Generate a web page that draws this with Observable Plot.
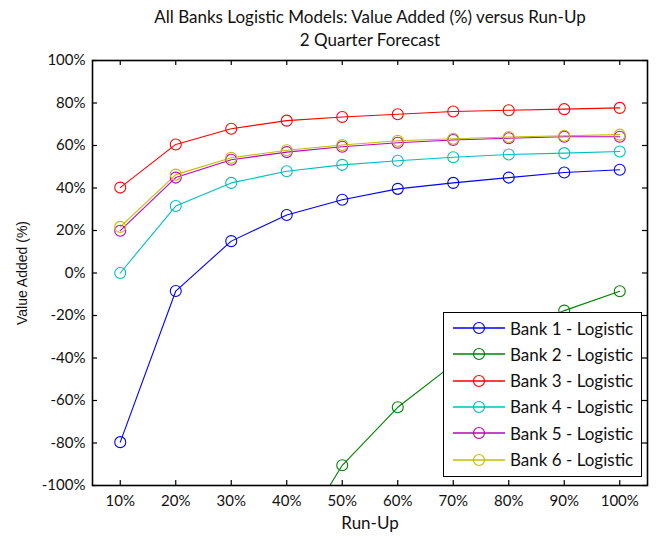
<!DOCTYPE html>
<html>
<head>
<meta charset="utf-8">
<script src="https://cdn.jsdelivr.net/npm/d3@7"></script>
<script src="https://cdn.jsdelivr.net/npm/@observablehq/plot@0.6"></script>
<style>
  html, body { margin: 0; padding: 0; background: #fff; }
  #wrap { position: relative; width: 657px; height: 537px; }
  #legend { position: absolute; left: 443px; top: 312px; width: 197px; height: 163px;
    border: 1.5px solid #000; background: #fff; font-family: Lato, sans-serif; font-size: 17px; color: #111; }
  .row { position: absolute; left: 0; height: 26px; display: flex; align-items: center; }
  .row svg { margin-left: 9px; }
  .row span { margin-left: 5px; white-space: nowrap; }
</style>
</head>
<body>
<div id="wrap"></div>
<script>
const runUp = [10, 20, 30, 40, 50, 60, 70, 80, 90, 100];
const seriesNames = ["Bank 1 - Logistic", "Bank 2 - Logistic", "Bank 3 - Logistic",
                     "Bank 4 - Logistic", "Bank 5 - Logistic", "Bank 6 - Logistic"];
const seriesColors = ["#0000ff", "#008000", "#ff0000", "#00bfbf", "#bf00bf", "#bfbf00"];
const bank1 = [-79.6, -8.5, 15.0, 27.3, 34.5, 39.6, 42.4, 44.9, 47.3, 48.6];
const bank2 = [null, null, -195, -133, -90.5, -63.2, -43.0, -29.0, -17.7, -8.6];
const bank3 = [40.2, 60.5, 67.9, 71.7, 73.4, 74.7, 76.0, 76.6, 77.1, 77.7];
const bank4 = [0.0, 31.5, 42.4, 47.9, 50.9, 52.8, 54.5, 55.8, 56.4, 57.2];
const bank5 = [19.9, 44.9, 53.3, 56.9, 59.4, 61.3, 62.6, 63.4, 64.1, 64.1];
const bank6 = [21.7, 46.3, 54.2, 57.8, 60.2, 62.2, 63.2, 64.0, 64.6, 65.1];
const xTicks = [10, 20, 30, 40, 50, 60, 70, 80, 90, 100];
const yTicks = [-100, -80, -60, -40, -20, 0, 20, 40, 60, 80, 100];
const titleLines = ["All Banks Logistic Models: Value Added (%) versus Run-Up", "2 Quarter Forecast"];
const xLabel = "Run-Up";
const yLabel = "Value Added (%)";

const allSeries = [bank1, bank2, bank3, bank4, bank5, bank6];
const data = [];
allSeries.forEach((vals, i) => vals.forEach((v, j) => {
  if (v != null) data.push({series: seriesNames[i], x: runUp[j], y: v});
}));

const W = 657, H = 537, ML = 92, MR = 10, MT = 60, MB = 52;
const innerW = W - ML - MR, innerH = H - MT - MB;
const tickFont = "Lato, sans-serif";

const chart = Plot.plot({
  width: W, height: H,
  marginLeft: ML, marginRight: MR, marginTop: MT, marginBottom: MB,
  style: {fontFamily: tickFont, fontSize: "15px", color: "#111", background: "#fff"},
  x: {domain: [5, 105]},
  y: {domain: [-100, 100]},
  color: {domain: seriesNames, range: seriesColors},
  marks: [
    Plot.axisX({ticks: xTicks, tickSize: 0, tickPadding: 10, tickFormat: d => d + "%", label: null, fontSize: 15}),
    Plot.axisY({ticks: yTicks, tickSize: 0, tickPadding: 7, tickFormat: d => d + "%", label: null, fontSize: 15}),
    Plot.tickX(xTicks, {x: d => d, insetTop: innerH - 5, stroke: "#000", strokeWidth: 1.2}),
    Plot.tickX(xTicks, {x: d => d, insetBottom: innerH - 5, stroke: "#000", strokeWidth: 1.2}),
    Plot.tickY(yTicks, {y: d => d, insetRight: innerW - 5, stroke: "#000", strokeWidth: 1.2}),
    Plot.tickY(yTicks, {y: d => d, insetLeft: innerW - 5, stroke: "#000", strokeWidth: 1.2}),
    Plot.line(data, {x: "x", y: "y", z: "series", stroke: "series", strokeWidth: 1.1, clip: true}),
    Plot.dot(data, {x: "x", y: "y", stroke: "series", r: 5.5, strokeWidth: 1.1, clip: true}),
    Plot.frame({stroke: "#000", strokeWidth: 1.6}),
    Plot.text([titleLines[0]], {text: d => d, frameAnchor: "top", lineAnchor: "middle", dy: -43, fontSize: 17, fill: "#111"}),
    Plot.text([titleLines[1]], {text: d => d, frameAnchor: "top", lineAnchor: "middle", dy: -20, fontSize: 17, fill: "#111"}),
    Plot.text([xLabel], {text: d => d, frameAnchor: "bottom", lineAnchor: "middle", dy: 38, fontSize: 17, fill: "#111"}),
    Plot.text([yLabel], {text: d => d, frameAnchor: "left", textAnchor: "middle", lineAnchor: "middle", dx: -70, rotate: -90, fontSize: 14,
      fontFamily: "Liberation Sans, Arial, sans-serif", fill: "#111"})
  ]
});
const wrap = document.getElementById("wrap");
wrap.appendChild(chart);

// legend
const legend = document.createElement("div");
legend.id = "legend";
seriesNames.forEach((name, i) => {
  const row = document.createElement("div");
  row.className = "row";
  row.style.top = (2 + i * 26.3) + "px";
  row.innerHTML = `<svg width="52" height="14"><line x1="0" x2="52" y1="7" y2="7" stroke="${seriesColors[i]}" stroke-width="1.3"/>` +
    `<circle cx="26" cy="7" r="5.5" fill="none" stroke="${seriesColors[i]}" stroke-width="1.2"/></svg><span>${name}</span>`;
  legend.appendChild(row);
});
wrap.appendChild(legend);
</script>
</body>
</html>
